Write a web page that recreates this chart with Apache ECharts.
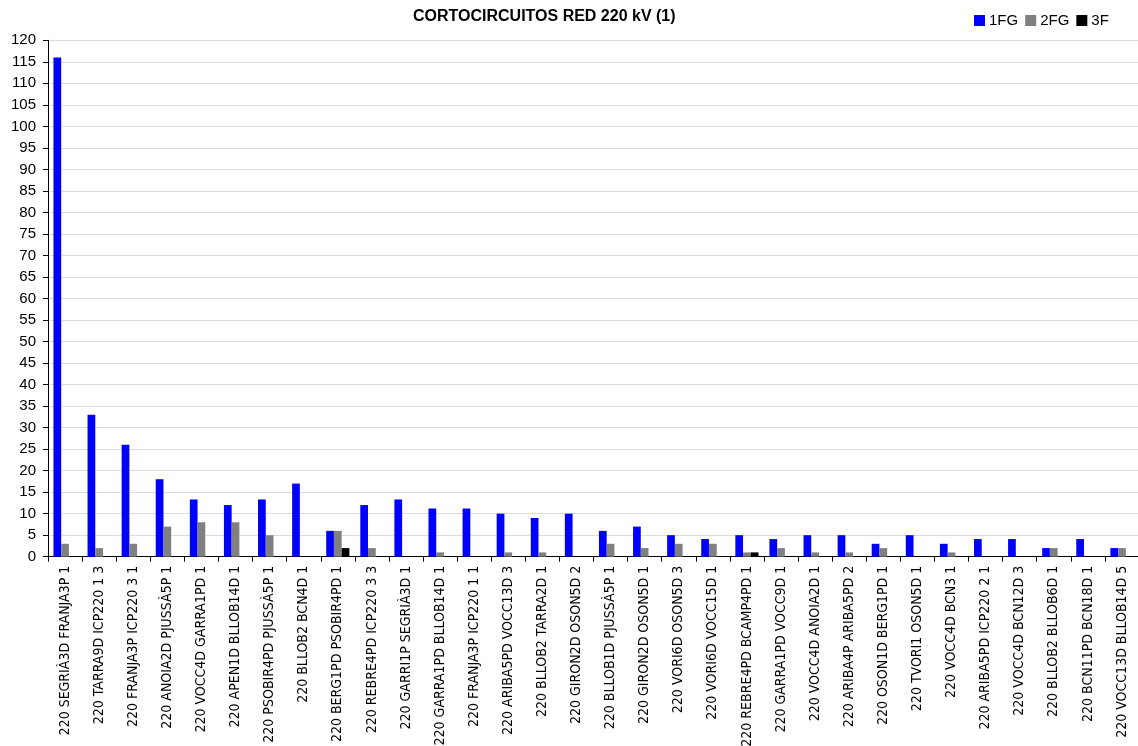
<!DOCTYPE html>
<html>
<head>
<meta charset="utf-8">
<script src="https://cdn.jsdelivr.net/npm/echarts@6/dist/echarts.min.js"></script>
<style>
html,body{margin:0;padding:0;background:#fff;}
#c{width:1138px;height:746px;}
</style>
</head>
<body>
<div id="c"></div>
<script>
const categories = [
  '220 SEGRIÀ3D FRANJA3P 1','220 TARRA9D ICP220 1 3','220 FRANJA3P ICP220 3 1','220 ANOIA2D PJUSSÀ5P 1',
  '220 VOCC4D GARRA1PD 1','220 APEN1D BLLOB14D 1','220 PSOBIR4PD PJUSSÀ5P 1','220 BLLOB2 BCN4D 1',
  '220 BERG1PD PSOBIR4PD 1','220 REBRE4PD ICP220 3 3','220 GARRI1P SEGRIÀ3D 1','220 GARRA1PD BLLOB14D 1',
  '220 FRANJA3P ICP220 1 1','220 ARIBA5PD VOCC13D 3','220 BLLOB2 TARRA2D 1','220 GIRON2D OSON5D 2',
  '220 BLLOB1D PJUSSÀ5P 1','220 GIRON2D OSON5D 1','220 VORI6D OSON5D 3','220 VORI6D VOCC15D 1',
  '220 REBRE4PD BCAMP4PD 1','220 GARRA1PD VOCC9D 1','220 VOCC4D ANOIA2D 1','220 ARIBA4P ARIBA5PD 2',
  '220 OSON1D BERG1PD 1','220 TVORI1 OSON5D 1','220 VOCC4D BCN3 1','220 ARIBA5PD ICP220 2 1',
  '220 VOCC4D BCN12D 3','220 BLLOB2 BLLOB6D 1','220 BCN11PD BCN18D 1','220 VOCC13D BLLOB14D 5'
];
const fg1 = [116,33,26,18,13.3,12,13.3,17,6,12,13.3,11.2,11.2,10,9,10,6,7,5,4.1,5,4.1,5,5,3,5,3,4.1,4.1,2,4.1,2];
const fg2 = [3,2,3,7,8,8,5,0,6,2,0,1,0,1,1,0,3,2,3,3,1,2,1,1,2,0,1,0,0,2,0,2];
const f3  = [0,0,0,0,0,0,0,0,2,0,0,0,0,0,0,0,0,0,0,0,1,0,0,0,0,0,0,0,0,0,0,0];
const seriesNames = ['1FG','2FG','3F'];
const yTicks = {min:0, max:120, interval:5};

const FONT = "'Liberation Sans', Arial, sans-serif";
const NARROW = "'Liberation Sans Narrow', 'Arial Narrow', 'DejaVu Sans Condensed', 'Liberation Sans', sans-serif";
const chart = echarts.init(document.getElementById('c'), null, {renderer:'canvas'});
const colors = ['#0000ff','#808080','#000000'];
const dataSets = [fg1, fg2, f3];

chart.setOption({
  animation:false,
  backgroundColor:'#ffffff',
  title:{
    text:'CORTOCIRCUITOS RED 220 kV (1)',
    left:408, top:4,
    textStyle:{fontFamily:FONT, fontSize:16, fontWeight:'bold', color:'#000'}
  },
  legend:{
    left:969, top:8,
    itemWidth:11, itemHeight:11, itemGap:7,
    icon:'rect',
    textStyle:{fontFamily:FONT, fontSize:15, color:'#000', padding:[0,0,0,-1]},
    data:seriesNames
  },
  grid:{left:48, right:-1, top:40.3, bottom:189.3, containLabel:false, outerBoundsMode:'none'},
  xAxis:{
    type:'category',
    data:categories,
    axisLine:{lineStyle:{color:'#000', width:1}},
    axisTick:{show:true, length:5, lineStyle:{color:'#000'}},
    axisLabel:{rotate:90, interval:0, margin:9, fontFamily:NARROW, fontSize:14, color:'#000'},
    splitLine:{show:false}
  },
  yAxis:{
    type:'value',
    min:yTicks.min, max:yTicks.max, interval:yTicks.interval,
    axisLine:{show:true, lineStyle:{color:'#000', width:1}},
    axisTick:{show:true, length:5, lineStyle:{color:'#000'}},
    axisLabel:{margin:12, fontFamily:FONT, fontSize:15, color:'#000'},
    splitLine:{show:true, lineStyle:{color:'#dcdcdc', width:1}}
  },
  series: seriesNames.map((n,i)=>({
    name:n, type:'bar', data:dataSets[i],
    itemStyle:{color:colors[i]},
    barGap:'0%', barCategoryGap:'32%'
  }))
});
</script>
</body>
</html>
